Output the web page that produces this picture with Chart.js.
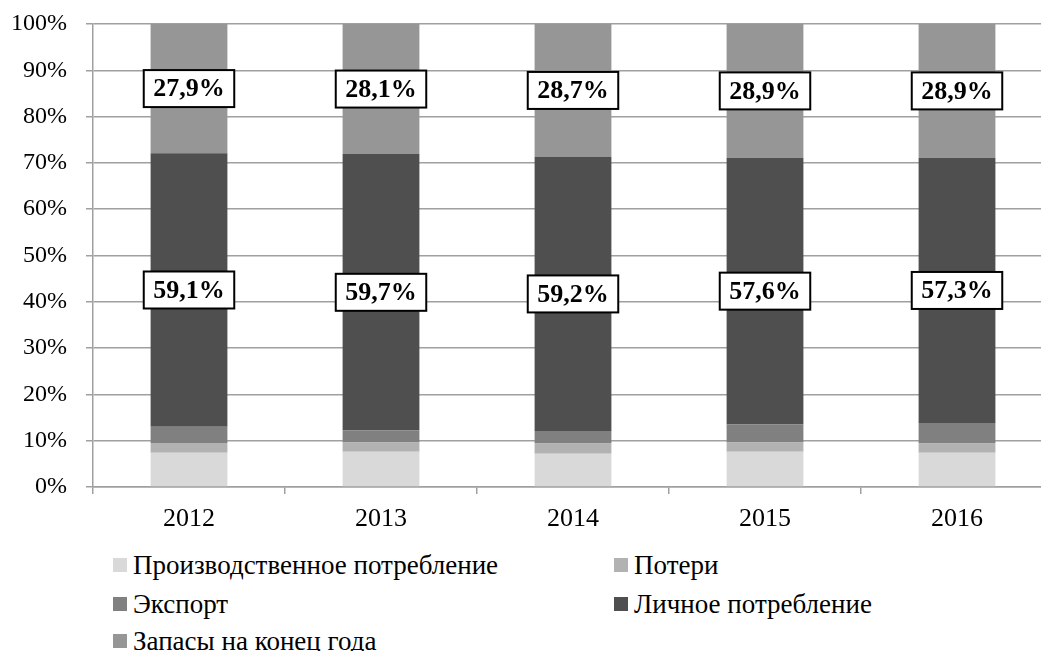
<!DOCTYPE html>
<html>
<head>
<meta charset="utf-8">
<script src="https://cdn.jsdelivr.net/npm/chart.js@4/dist/chart.umd.min.js"></script>
<style>
  html, body { margin: 0; padding: 0; background: #fff; }
  body { width: 1041px; height: 651px; overflow: hidden; position: relative; font-family: "Liberation Serif", "Times New Roman", serif; }
  #wrap { position: absolute; left: 0; top: 0; width: 1060px; height: 540px; }
  .lg { position: absolute; height: 32px; display: flex; align-items: center; font-size: 27px; color: #000; white-space: nowrap; }
  .lg .sq { width: 14px; height: 14px; margin-right: 6px; flex: none; }
</style>
</head>
<body>
<div id="wrap"><canvas id="c"></canvas></div>
<div id="legend"></div>
<script>
const categories = ["2012", "2013", "2014", "2015", "2016"];
const seriesNames = ["Производственное потребление", "Потери", "Экспорт", "Личное потребление", "Запасы на конец года"];
const production = [7.4, 7.6, 7.2, 7.6, 7.4];
const losses     = [2.1, 2.0, 2.2, 2.0, 2.0];
const exportVals = [3.5, 2.6, 2.7, 3.9, 4.4];
const personal   = [59.1, 59.7, 59.2, 57.6, 57.3];
const stocks     = [27.9, 28.1, 28.7, 28.9, 28.9];
const yTicks = [0, 10, 20, 30, 40, 50, 60, 70, 80, 90, 100];
const colors = ["#d9d9d9", "#b2b2b2", "#808080", "#4f4f4f", "#969696"];
const labelledSeries = [3, 4];

const seriesData = [production, losses, exportVals, personal, stocks];
const FONT = '"Liberation Serif", "Times New Roman", serif';

const boxLabels = {
  id: 'boxLabels',
  afterDatasetsDraw(chart) {
    const ctx = chart.ctx;
    ctx.save();
    ctx.font = 'bold 26px ' + FONT;
    ctx.textAlign = 'center';
    ctx.textBaseline = 'middle';
    labelledSeries.forEach(di => {
      const meta = chart.getDatasetMeta(di);
      meta.data.forEach((el, i) => {
        const v = chart.data.datasets[di].data[i];
        const txt = v.toFixed(1).replace('.', ',') + '%';
        const cx = el.x;
        const cy = (el.y + el.base) / 2;
        const w = ctx.measureText(txt).width + 19;
        const h = 37;
        ctx.fillStyle = '#fff';
        ctx.fillRect(cx - w / 2, cy - h / 2, w, h);
        ctx.lineWidth = 2;
        ctx.strokeStyle = '#000';
        ctx.strokeRect(cx - w / 2, cy - h / 2, w, h);
        ctx.fillStyle = '#000';
        ctx.fillText(txt, cx, cy + 1);
      });
    });
    ctx.restore();
  }
};

new Chart(document.getElementById('c'), {
  type: 'bar',
  data: {
    labels: categories,
    datasets: seriesData.map((d, i) => ({
      label: seriesNames[i],
      data: d,
      backgroundColor: colors[i],
      borderWidth: 0,
      categoryPercentage: 0.4,
      barPercentage: 1.0
    }))
  },
  options: {
    responsive: true,
    maintainAspectRatio: false,
    animation: false,
    layout: { padding: { top: 24, left: 0, right: 7, bottom: 0 } },
    plugins: { legend: { display: false }, tooltip: { enabled: false } },
    scales: {
      x: {
        stacked: true,
        afterFit: s => { s.height = 53; },
        grid: { display: true, drawOnChartArea: false, drawTicks: true, tickLength: 7, color: '#a0a0a0', lineWidth: 1.5, offset: true },
        border: { display: true, color: '#a0a0a0', width: 1.5 },
        ticks: { color: '#000', font: { family: FONT, size: 26 }, padding: 10 }
      },
      y: {
        stacked: true,
        min: 0,
        max: 100,
        afterFit: s => { s.width = 93; s.paddingTop = 0; s.paddingBottom = 0; },
        afterBuildTicks: s => { s.ticks = yTicks.map(v => ({ value: v })); },
        grid: { color: '#a0a0a0', lineWidth: 1.5, drawTicks: true, tickLength: 7 },
        border: { display: true, color: '#a0a0a0', width: 1.5 },
        ticks: { color: '#000', font: { family: FONT, size: 24 }, padding: 19, callback: v => v + '%' }
      }
    }
  },
  plugins: [boxLabels]
});

// legend (2 columns)
const legendPos = [
  { x: 113, y: 565 }, { x: 614, y: 565 },
  { x: 113, y: 604 }, { x: 614, y: 604 },
  { x: 113, y: 641 }
];
const lg = document.getElementById('legend');
seriesNames.forEach((name, i) => {
  const d = document.createElement('div');
  d.className = 'lg';
  d.style.left = legendPos[i].x + 'px';
  d.style.top = (legendPos[i].y - 16) + 'px';
  const sq = document.createElement('span');
  sq.className = 'sq';
  sq.style.background = colors[i];
  const t = document.createElement('span');
  t.textContent = name;
  d.appendChild(sq);
  d.appendChild(t);
  lg.appendChild(d);
});
</script>
</body>
</html>
